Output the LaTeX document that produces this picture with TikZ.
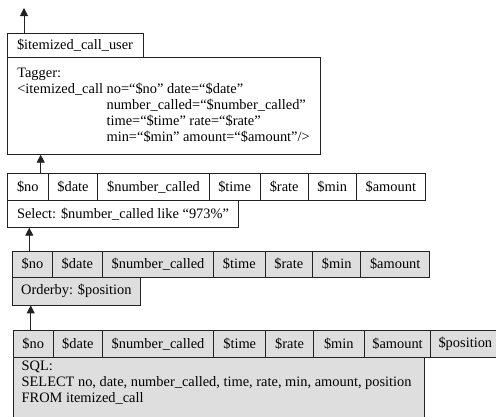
\documentclass[tikz,border=0pt]{standalone}
\usepackage{fontspec}
\setmainfont{Liberation Serif}
\usetikzlibrary{arrows.meta}
\definecolor{cellgray}{HTML}{DEDEDE}
\definecolor{edge}{HTML}{222222}
% \cellnode{style}{name}{x1}{x2}{y1}{y2}{text}: a box spanning the given corners
\newcommand\cellnode[7]{\node[#1, minimum width={(#4-#3)*1pt}, minimum height={(#6-#5)*1pt}] (#2) at ({(#3+#4)/2},{(#5+#6)/2}) {#7};}
\begin{document}
\begin{tikzpicture}[x=1pt,y=-1pt,
  cell/.style={draw=edge, line width=0.8pt, inner sep=0pt, font=\fontsize{14.4}{16}\selectfont, text=black},
  shaded/.style={cell, fill=cellgray},
  arr/.style={draw=edge, line width=0.9pt, -{Triangle[length=8pt,width=8pt]}}]
\useasboundingbox (0,0) rectangle (496,416);
\fill[white] (0,0) rectangle (496,416);

% tagger output
\cellnode{cell}{user}{7}{143}{33}{57}{\$itemized\_call\_user}
\cellnode{cell, align=left}{tagger}{7}{320}{57}{154.3}{Tagger:\\
<itemized\_call no=“\$no” date=“\$date”\\
\hphantom{<itemized\_call }number\_called=“\$number\_called”\\
\hphantom{<itemized\_call }time=“\$time” rate=“\$rate”\\
\hphantom{<itemized\_call }min=“\$min” amount=“\$amount”/>}

% select stage
\cellnode{cell}{r1a}{7.3}{48.3}{173}{200.7}{\$no}
\cellnode{cell}{r1b}{48.3}{97.7}{173}{200.7}{\$date}
\cellnode{cell}{r1c}{97.7}{209.3}{173}{200.7}{\$number\_called}
\cellnode{cell}{r1d}{209.3}{260}{173}{200.7}{\$time}
\cellnode{cell}{r1e}{260}{308.3}{173}{200.7}{\$rate}
\cellnode{cell}{r1f}{308.3}{356}{173}{200.7}{\$min}
\cellnode{cell}{r1g}{356}{425.7}{173}{200.7}{\$amount}
\cellnode{cell}{sel}{7.3}{238.7}{200.7}{227.3}{Select: \$number\_called like “973\%”}

% orderby stage
\cellnode{shaded}{r2a}{12.7}{52.3}{251}{277.3}{\$no}
\cellnode{shaded}{r2b}{52.3}{102.3}{251}{277.3}{\$date}
\cellnode{shaded}{r2c}{102.3}{213.7}{251}{277.3}{\$number\_called}
\cellnode{shaded}{r2d}{213.7}{265}{251}{277.3}{\$time}
\cellnode{shaded}{r2e}{265}{312.7}{251}{277.3}{\$rate}
\cellnode{shaded}{r2f}{312.7}{360.7}{251}{277.3}{\$min}
\cellnode{shaded}{r2g}{360.7}{429.7}{251}{277.3}{\$amount}
\cellnode{shaded}{ord}{12.7}{140}{277.3}{305}{Orderby: \$position}

% SQL source
\cellnode{shaded}{r3a}{13.3}{53.3}{330.7}{357.3}{\$no}
\cellnode{shaded}{r3b}{53.3}{102.3}{330.7}{357.3}{\$date}
\cellnode{shaded}{r3c}{102.3}{213.7}{330.7}{357.3}{\$number\_called}
\cellnode{shaded}{r3d}{213.7}{265.7}{330.7}{357.3}{\$time}
\cellnode{shaded}{r3e}{265.7}{313.3}{330.7}{357.3}{\$rate}
\cellnode{shaded}{r3f}{313.3}{364.3}{330.7}{357.3}{\$min}
\cellnode{shaded}{r3g}{364.3}{430.7}{330.7}{357.3}{\$amount}
\cellnode{shaded}{r3h}{430.7}{500}{330.7}{357.3}{\$position}
\cellnode{shaded}{sql}{13.3}{424}{357.3}{423}{\parbox[c][58pt][t]{394pt}{\fontsize{14.4}{16}\selectfont SQL:\\
SELECT no, date, number\_called, time, rate, min, amount, position\\
FROM itemized\_call}}

% data flow
\coordinate (out) at (24,8);
\coordinate (a1) at (40.7,0);
\coordinate (a2) at (29.3,0);
\coordinate (a3) at (30.7,0);
\draw[arr] (user.north -| out) -- (out);
\draw[arr] (r1a.north -| a1) -- (tagger.south -| a1);
\draw[arr] (r2a.north -| a2) -- (sel.south -| a2);
\draw[arr] (r3a.north -| a3) -- (ord.south -| a3);
\end{tikzpicture}
\end{document}
